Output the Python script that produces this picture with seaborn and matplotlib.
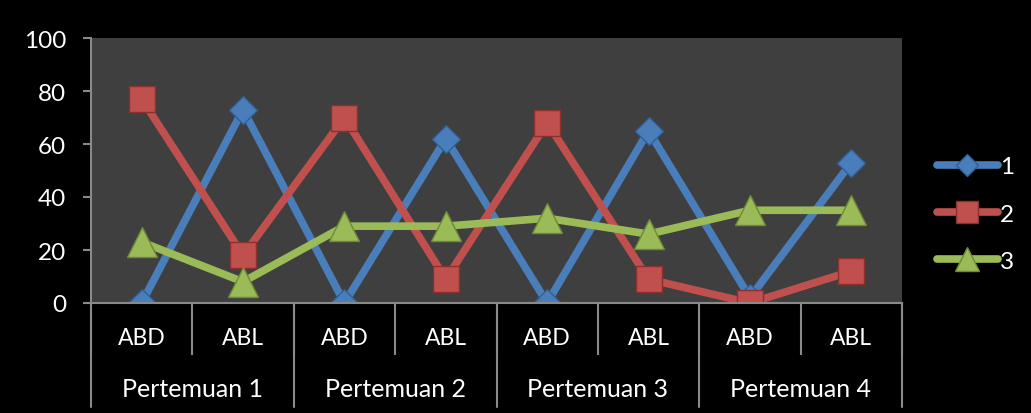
import matplotlib
matplotlib.use("Agg")
import matplotlib.pyplot as plt
import matplotlib.transforms as mtransforms
import seaborn as sns
import pandas as pd
import numpy as np

# Session / category data
groups = ["Pertemuan 1", "Pertemuan 2", "Pertemuan 3", "Pertemuan 4"]
subcats = ["ABD", "ABL"]
series_names = ["1", "2", "3"]
values_1 = [0, 73, 0, 62, 0, 65, 2, 53]
values_2 = [77, 18, 70, 9, 68, 9, 0, 12]
values_3 = [23, 8, 29, 29, 32, 26, 35, 35]

y_ticks = [0, 20, 40, 60, 80, 100]

keys = [f"{g}|{s}" for g in groups for s in subcats]
frames = []
for name, vals in zip(series_names, [values_1, values_2, values_3]):
    frames.append(pd.DataFrame({"key": keys, "value": vals, "series": name}))
df = pd.concat(frames, ignore_index=True)

sns.set_theme(style="white")
plt.rcParams["font.family"] = ["Lato", "DejaVu Sans"]

fig = plt.figure(figsize=(10.31, 4.14), dpi=100, facecolor="black")
ax = fig.add_axes([91 / 1031, 1 - 304 / 414, 811 / 1031, 265 / 414])
ax.set_facecolor("#3f3f3f")

styles = {
    "1": dict(color="#4a7ebb", marker="D", markersize=14.5, mec="#2f5f96"),
    "2": dict(color="#c0504d", marker="s", markersize=19, mec="#8c2f2d"),
    "3": dict(color="#9bbb59", marker="^", markersize=21, mec="#6d8a35"),
}

for name in series_names:
    st = styles[name]
    sub = df[df["series"] == name]
    sns.lineplot(data=sub, x="key", y="value", ax=ax, sort=False,
                 color=st["color"], linewidth=5.5, marker=st["marker"],
                 markersize=st["markersize"], markeredgecolor=st["mec"],
                 markeredgewidth=1.0, markerfacecolor=st["color"],
                 solid_capstyle="round", solid_joinstyle="round",
                 label=name)

handles, labels = ax.get_legend_handles_labels()
if ax.get_legend() is not None:
    ax.get_legend().remove()

n = len(keys)
ax.set_xlim(-0.5, n - 0.5)
ax.set_ylim(0, 100)
ax.set_yticks(y_ticks)
ax.set_yticklabels([str(v) for v in y_ticks], color="white", fontsize=17.5)
ax.set_xlabel("")
ax.set_ylabel("")

grid_col = "#8a8a8a"
for side in ["top", "right"]:
    ax.spines[side].set_visible(False)
for side in ["left", "bottom"]:
    ax.spines[side].set_color(grid_col)
    ax.spines[side].set_linewidth(1.5)

ax.tick_params(axis="y", which="major", direction="out", length=6,
               width=1.5, color=grid_col, pad=12, left=True)

# Inner category labels
ax.set_xticks(np.arange(n))
ax.set_xticklabels([k.split("|")[1] for k in keys], color="white", fontsize=16.5)
ax.tick_params(axis="x", which="major", length=0, pad=17, bottom=True)
# Inner dividers as minor ticks
ax.set_xticks(np.arange(n + 1) - 0.5, minor=True)
ax.tick_params(axis="x", which="minor", direction="out", length=37.5,
               width=1.5, color=grid_col, bottom=True)

# Group dividers and labels
trans = mtransforms.blended_transform_factory(ax.transData, ax.transAxes)
for b in np.arange(0, n + 1, 2) - 0.5:
    ax.plot([b, b], [0, -104 / 265], transform=trans, color=grid_col,
            linewidth=1.5, clip_on=False)
for i, g in enumerate(groups):
    ax.text(2 * i + 0.5, -86 / 265, g, transform=trans, ha="center",
            va="center", color="white", fontsize=18)

leg = fig.legend(handles, labels, loc="center left",
                 bbox_to_anchor=(937 / 1031, 1 - 215 / 414), frameon=False,
                 fontsize=17.5, handlelength=2.5, handletextpad=0.1,
                 labelspacing=1.07, markerscale=0.8, borderpad=0,
                 borderaxespad=0)
for t in leg.get_texts():
    t.set_color("white")

fig.savefig("out.png", dpi=100, facecolor="black")
